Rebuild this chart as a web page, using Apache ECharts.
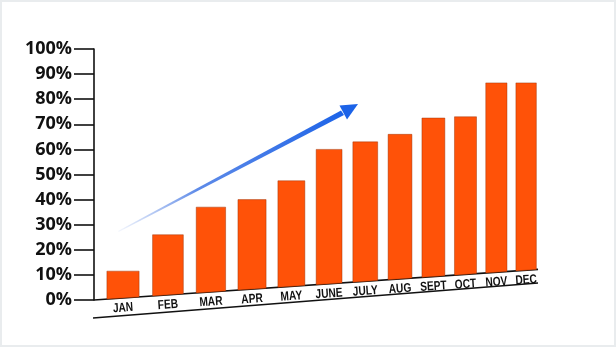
<!DOCTYPE html>
<html>
<head>
<meta charset="utf-8">
<script src="https://cdn.jsdelivr.net/npm/echarts@6/dist/echarts.min.js"></script>
<style>
  body { margin: 0; background: #fff; }
  #main { width: 616px; height: 347px; }
  #frame {
    position: absolute; left: 0; top: 0; width: 616px; height: 347px;
    box-sizing: border-box; border: 2px solid #e9ecee; pointer-events: none;
  }
</style>
</head>
<body>
<div id="main"></div>
<div id="frame"></div>
<script>
// chart data
const months = ['JAN', 'FEB', 'MAR', 'APR', 'MAY', 'JUNE', 'JULY', 'AUG', 'SEPT', 'OCT', 'NOV', 'DEC'];
const values = [11.5, 26, 37, 40, 47.5, 60, 63, 66, 72.5, 73, 86.5, 86.5];

// perspective look: baseline slants up to the right, bands get narrower
const SLOPE = 0.069;
const PERSP = 0.0232;

const chart = echarts.init(document.getElementById('main'));

function warpX(px, cs) {
  const band = cs.width / months.length;
  const t = (px - cs.x) / band - 0.5;
  return { x: cs.x + 29 + 46 * t / (1 + PERSP * t), d: 46 / Math.pow(1 + PERSP * t, 2) };
}

function baseY(x, cs) {
  return cs.y + cs.height - SLOPE * (x - cs.x);
}

function renderBar(params, api) {
  const cs = params.coordSys;
  const top = api.coord([api.value(0), api.value(1)]);
  const w = warpX(top[0], cs);
  const half = w.d * 0.35;
  const x0 = w.x - half, x1 = w.x + half;
  return {
    type: 'group',
    children: [
      {
        type: 'polygon',
        shape: { points: [[x0, top[1]], [x1, top[1]], [x1, baseY(x1, cs)], [x0, baseY(x0, cs)]] },
        style: { fill: '#ff5208', stroke: 'rgba(150,45,0,0.55)', lineWidth: 0.8 }
      },
      {
        type: 'text',
        x: w.x, y: baseY(w.x, cs) + 10,
        rotation: Math.atan(SLOPE),
        scaleX: 0.78,
        style: {
          text: months[params.dataIndex],
          fill: '#111',
          fontSize: 13,
          fontWeight: 'bold',
          fontFamily: '"Liberation Sans", Arial, sans-serif',
          align: 'center', verticalAlign: 'middle'
        }
      }
    ]
  };
}

const option = {
  animation: false,
  grid: { left: 94, width: 444, top: 49, bottom: 47 },
  xAxis: { type: 'category', data: months, show: false },
  yAxis: {
    type: 'value', min: 0, max: 100, interval: 10,
    axisLine: { show: true, lineStyle: { color: '#111', width: 1.6 } },
    axisTick: { show: true, length: 20, lineStyle: { color: '#111', width: 1.6 } },
    splitLine: { show: false },
    axisLabel: {
      formatter: '{value}%', color: '#111', fontSize: 18, fontWeight: 'bold',
      fontFamily: 'Open Sans', margin: 22, padding: [0, 0, 6, 0]
    }
  },
  series: [{
    type: 'custom',
    renderItem: renderBar,
    data: values.map((v, i) => [i, v]),
    clip: false
  }],
  graphic: [
    // slanted baseline and the lower line
    { type: 'line', shape: { x1: 94, y1: 300, x2: 538, y2: 300 - 444 * SLOPE }, style: { stroke: '#111', lineWidth: 1.6 } },
    { type: 'line', shape: { x1: 93, y1: 318, x2: 538, y2: 283 }, style: { stroke: '#111', lineWidth: 1.6 } },
    // trend arrow
    {
      type: 'polygon',
      shape: { points: [[118, 231], [341, 110.5], [344, 115], [118.6, 232]] },
      style: {
        fill: {
          type: 'linear', x: 0, y: 1, x2: 1, y2: 0,
          colorStops: [{ offset: 0, color: 'rgba(60,110,220,0.05)' }, { offset: 0.35, color: 'rgba(40,100,225,0.75)' }, { offset: 1, color: '#1c63e8' }]
        }
      }
    },
    { type: 'polygon', shape: { points: [[358, 104], [339.5, 105.5], [347, 119.5]] }, style: { fill: '#1c63e8' } }
  ]
};
chart.setOption(option);
</script>
</body>
</html>
